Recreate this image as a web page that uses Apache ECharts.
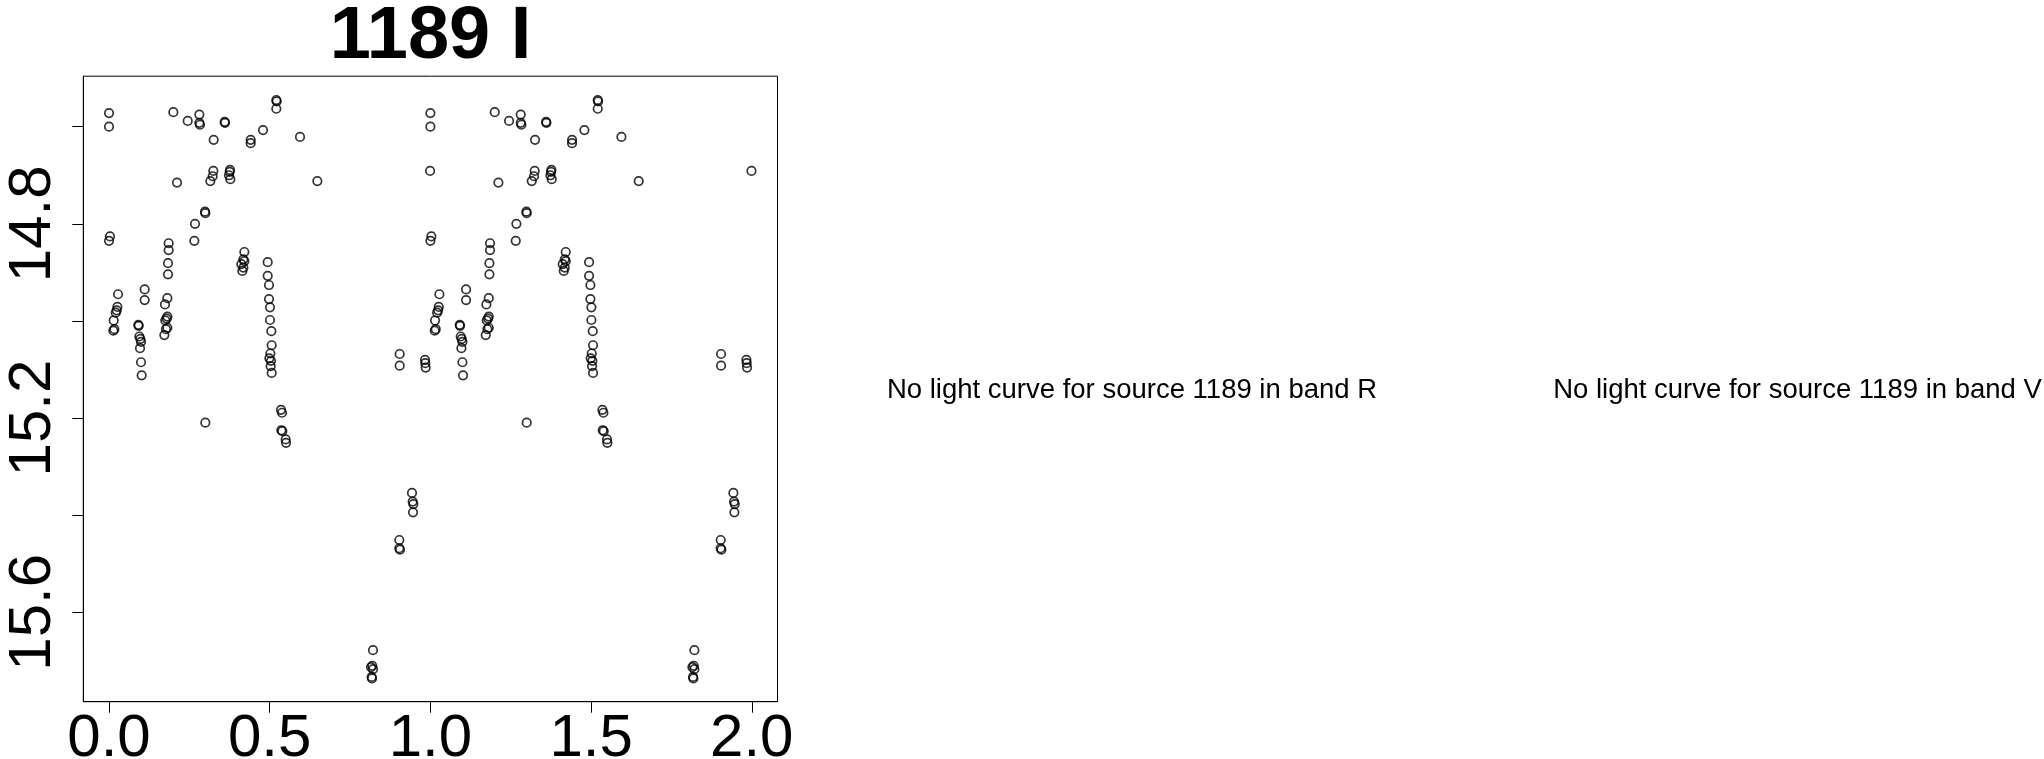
<!DOCTYPE html>
<html>
<head>
<meta charset="utf-8">
<script src="https://cdn.jsdelivr.net/npm/echarts@6/dist/echarts.min.js"></script>
<style>
  html, body { margin: 0; padding: 0; background: #fff; }
  #chart { width: 2044px; height: 759px; }
</style>
</head>
<body>
<div id="chart"></div>
<script>
// ---- data (phase in [0,1), I-band magnitude) ----
const phase = [
  0.000, 0.000, 0.003, 0.000, 0.028, 0.026, 0.024, 0.021, 0.0145, 0.0166, 0.0135,
  0.111, 0.111, 0.0913, 0.0923, 0.0944, 0.0975, 0.0996, 0.0965, 0.0996, 0.1016,
  0.1856, 0.1856, 0.1836, 0.1836, 0.1815, 0.1742, 0.1815, 0.1794, 0.1753, 0.1815, 0.1773, 0.1722,
  0.2002, 0.2116, 0.2448, 0.2811, 0.2811, 0.2831, 0.2676, 0.2655, 0.2987, 0.2997,
  0.3257, 0.3246, 0.3225, 0.3153, 0.3599, 0.3609, 0.3765, 0.3754, 0.3734, 0.3775,
  0.4211, 0.418, 0.4211, 0.4117, 0.418, 0.4149, 0.4408, 0.4408, 0.4792,
  0.5206, 0.5217, 0.5206, 0.5943, 0.6482,
  0.4937, 0.4937, 0.4978, 0.4978, 0.5009, 0.5009, 0.5051, 0.5061, 0.502, 0.4989, 0.504, 0.503, 0.5061,
  0.9044, 0.9044, 0.9832, 0.9842, 0.9853, 0.999,
  0.2997, 0.5352, 0.5383, 0.5362, 0.5393, 0.5497, 0.5507,
  0.9427, 0.9448, 0.9469, 0.9458, 0.9033, 0.9033, 0.9054,
  0.8214, 0.8193, 0.8152, 0.8214, 0.8173, 0.8183
];
const mag = [
  14.572, 14.600, 14.826, 14.835, 14.945, 14.971, 14.978, 14.983, 14.999, 15.017, 15.020,
  14.935, 14.957, 15.008, 15.010, 15.032, 15.037, 15.043, 15.056, 15.085, 15.112,
  14.840, 14.854, 14.881, 14.904, 14.953, 14.966, 14.991, 14.995, 14.999, 15.014, 15.017, 15.029,
  14.570, 14.715, 14.588, 14.575, 14.592, 14.596, 14.800, 14.835, 14.775, 14.778,
  14.627, 14.691, 14.702, 14.712, 14.590, 14.592, 14.689, 14.693, 14.700, 14.708,
  14.858, 14.873, 14.877, 14.883, 14.890, 14.897, 14.627, 14.634, 14.607,
  14.545, 14.548, 14.563, 14.621, 14.712,
  14.879, 14.907, 14.926, 14.955, 14.972, 14.998, 15.021, 15.050, 15.067, 15.077, 15.082, 15.093, 15.107,
  15.068, 15.092, 15.080, 15.087, 15.096, 14.691,
  15.2095, 15.183, 15.189, 15.225, 15.227, 15.244, 15.251,
  15.354, 15.372, 15.377, 15.394, 15.451, 15.468, 15.471,
  15.678, 15.710, 15.713, 15.717, 15.733, 15.736
];
const xTicks = [0.0, 0.5, 1.0, 1.5, 2.0];
const yTicks = [14.6, 14.8, 15.0, 15.2, 15.4, 15.6];
const yLabels = [14.8, 15.2, 15.6];
const titleText = '1189 I';
const noteR = 'No light curve for source 1189 in band R';
const noteV = 'No light curve for source 1189 in band V';

// phase-folded curve plotted twice (phase and phase + 1)
const points = phase.map((p, i) => [p, mag[i]])
  .concat(phase.map((p, i) => [p + 1, mag[i]]));

const FONT = "'Liberation Sans', Arial, Helvetica, sans-serif";
const chart = echarts.init(document.getElementById('chart'), null, { renderer: 'canvas' });
chart.setOption({
  animation: false,
  backgroundColor: '#ffffff',
  grid: {
    left: 83.3, right: 1266.5, top: 76.2, bottom: 57.3,
    containLabel: false, outerBoundsMode: 'none',
    show: true, borderColor: '#000', borderWidth: 1, backgroundColor: 'transparent'
  },
  xAxis: {
    type: 'value', min: -0.08, max: 2.08, position: 'bottom',
    axisLine: { show: true, onZero: false, lineStyle: { color: '#000', width: 1 } },
    splitLine: { show: false },
    axisTick: { show: true, inside: false, length: 11, lineStyle: { color: '#000', width: 1 }, customValues: xTicks },
    axisLabel: {
      show: true, margin: 8, fontSize: 60, lineHeight: 60, color: '#000', fontFamily: FONT,
      customValues: xTicks,
      formatter: v => v.toFixed(1)
    }
  },
  yAxis: {
    type: 'value', min: 14.496, max: 15.784, inverse: true, position: 'left',
    axisLine: { show: true, onZero: false, lineStyle: { color: '#000', width: 1 } },
    splitLine: { show: false },
    axisTick: { show: true, inside: false, length: 11, lineStyle: { color: '#000', width: 1 }, customValues: yTicks },
    axisLabel: {
      show: true, rotate: 90, margin: 20, fontSize: 60, lineHeight: 60, color: '#000', fontFamily: FONT,
      customValues: yLabels,
      formatter: v => v.toFixed(1)
    }
  },
  series: [{
    type: 'scatter',
    data: points,
    symbol: 'circle',
    symbolSize: 8.5,
    itemStyle: { color: 'rgba(0,0,0,0)', borderColor: '#000', borderWidth: 1.7 },
    emphasis: { disabled: true },
    silent: true
  }],
  graphic: [
    { type: 'text', x: 430.5, y: 37.5, silent: true,
      style: { text: titleText, fontSize: 74, fontWeight: 'bold', fontFamily: FONT, fill: '#000',
               align: 'center', verticalAlign: 'middle', textAlign: 'center', textVerticalAlign: 'middle' } },
    { type: 'text', x: 1132, y: 390, silent: true,
      style: { text: noteR, fontSize: 27.5, fontFamily: FONT, fill: '#000',
               align: 'center', verticalAlign: 'middle', textAlign: 'center', textVerticalAlign: 'middle' } },
    { type: 'text', x: 1797.5, y: 390, silent: true,
      style: { text: noteV, fontSize: 27.5, fontFamily: FONT, fill: '#000',
               align: 'center', verticalAlign: 'middle', textAlign: 'center', textVerticalAlign: 'middle' } }
  ]
});
</script>
</body>
</html>
